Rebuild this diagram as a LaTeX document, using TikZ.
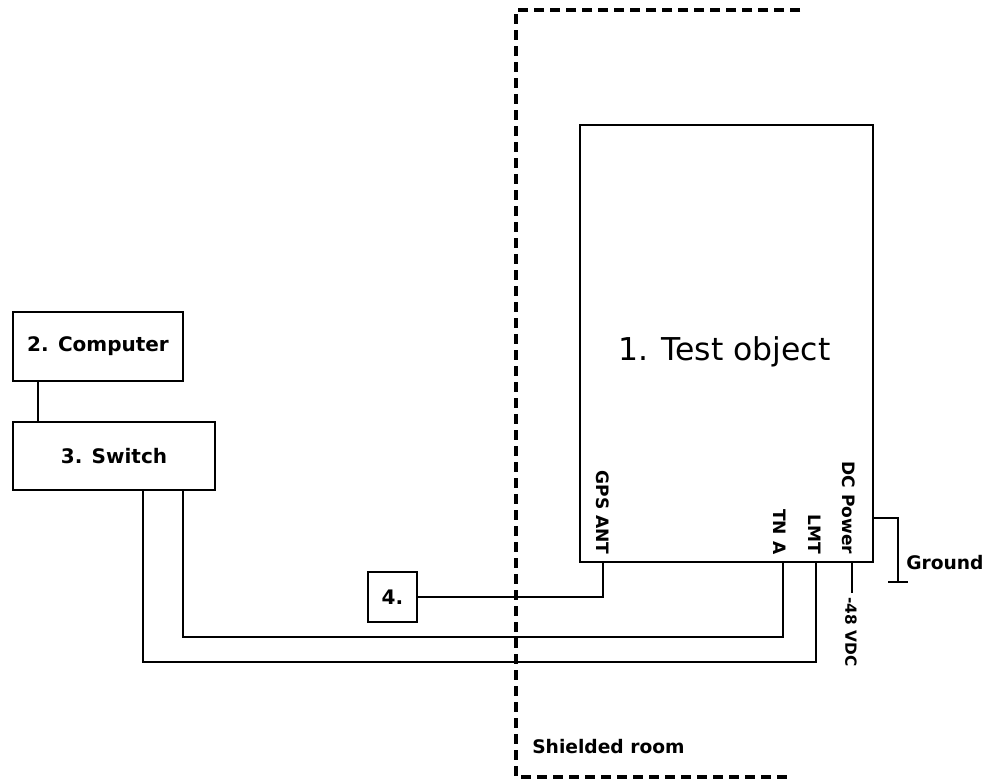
\documentclass[tikz,border=0pt]{standalone}
\usepackage{fontspec}
\setmainfont{DejaVu Sans}
\begin{document}
\begin{tikzpicture}[x=0.75pt, y=-0.75pt,
    unit/.style={draw, line width=2.2pt, inner sep=0pt, font=\bfseries\fontsize{15}{18}\selectfont},
    wire/.style={line width=2.1pt},
    portlabel/.style={rotate=-90, anchor=east, inner sep=1pt, font=\bfseries\fontsize{12.8}{15}\selectfont},
    roomline/.style={line width=2.6pt, dash pattern=on 7.5pt off 4.5pt}]
  \useasboundingbox (0,0) rectangle (988,783);
  % Shielded room
  \draw[roomline] (800,10) -- (516,10) -- (516,777) -- (790,777);
  \node[anchor=west, inner sep=0pt, font=\bfseries\fontsize{14}{17}\selectfont] (roomlabel) at (532,747) {Shielded room};
  % Units
  \node[unit, minimum width=219.75pt, minimum height=327.75pt] (test) at (726.5,343.5) {};
  \node[anchor=base, inner sep=0pt, font=\fontsize{23.6}{28}\selectfont] (testlabel) at (724.5,360) {1. Test object};
  \node[unit, minimum width=127.5pt, minimum height=51.75pt] (computer) at (98,346.5) {2. Computer};
  \node[unit, minimum width=151.5pt, minimum height=51pt] (switch) at (114,456) {3. Switch};
  \node[unit, minimum width=36.75pt, minimum height=37.5pt] (gpsant) at (392.5,597) {4.};
  % Ports on the test object
  \coordinate (gpsport) at (603,562);
  \coordinate (tnaport) at (783,562);
  \coordinate (lmtport) at (816,562);
  \coordinate (pwrport) at (852,562);
  \coordinate (dcport) at (873,518);
  \node[portlabel] (gpslabel) at (603,556) {GPS ANT};
  \node[portlabel] (tnalabel) at (780,556) {TN A};
  \node[portlabel] (lmtlabel) at (815,556) {LMT};
  \node[portlabel] (dclabel) at (849,556) {DC Power};
  % Ports on the switch
  \coordinate (swtna) at (183,490);
  \coordinate (swlmt) at (143,490);
  \coordinate (tnabend) at (183,637);
  \coordinate (lmtbend) at (143,662);
  % Cables
  \draw[wire] (computer.south -| 38,0) -- (switch.north -| 38,0);
  \draw[wire] (gpsant.east) -| (gpsport);
  \draw[wire] (swtna) -- (tnabend) -| (tnaport);
  \draw[wire] (swlmt) -- (lmtbend) -| (lmtport);
  % Power and ground
  \coordinate (pwrend) at (852,593);
  \draw[wire] (pwrport) -- (pwrend);
  \node[rotate=-90, anchor=west, inner sep=1pt, font=\bfseries\fontsize{11.5}{14}\selectfont] (pwrlabel) at (851,596) {-48 VDC};
  \coordinate (gndpoint) at (898,582);
  \draw[wire] (dcport) -| (gndpoint);
  \draw[wire] (gndpoint) ++(-10,0) -- ++(20,0);
  \node[anchor=west, inner sep=0pt, font=\bfseries\fontsize{14}{17}\selectfont] (gndlabel) at (906,563) {Ground};
\end{tikzpicture}
\end{document}
